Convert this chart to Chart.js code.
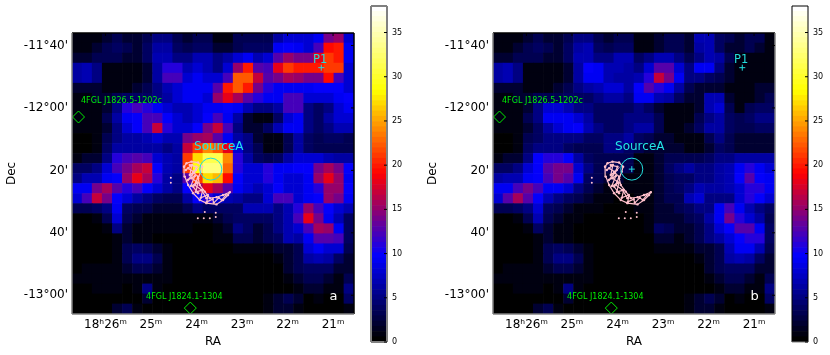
<!DOCTYPE html>
<html>
<head>
<meta charset="utf-8">
<script src="https://cdn.jsdelivr.net/npm/chart.js@4/dist/chart.umd.min.js"></script>
<style>
html, body { margin: 0; background: #fff; }
canvas { position: absolute; top: 0; }
</style>
</head>
<body>
<canvas id="panelA" width="366" height="355" style="left:0"></canvas>
<canvas id="barA" width="50" height="355" style="left:360px"></canvas>
<canvas id="panelB" width="366" height="355" style="left:421px"></canvas>
<canvas id="barB" width="49" height="355" style="left:781px"></canvas>
<script>
const raTicks = [26, 25, 24, 23, 22, 21];
const raLabels = ['18ʰ26ᵐ', '25ᵐ', '24ᵐ', '23ᵐ', '22ᵐ', '21ᵐ'];
const decTicks = [-700, -720, -740, -760, -780];
const decLabels = ["-11°40'", "-12°00'", "20'", "40'", "-13°00'"];
const barTicks = [0, 5, 10, 15, 20, 25, 30, 35];

// counts per cell, top row first, left column first
const mapA = [
    [1,1,1,2,3,2,2,3,5,5,3,2,3,3,1,1,3,3,3,3,6,8,8,8,9,14,15,8],
    [1,1,2,3,4,3,2,4,6,6,4,3,4,4,2,2,3,4,4,4,9,10,9,8,12,19,20,9],
    [2,2,3,3,3,2,2,4,7,7,5,5,7,7,5,6,8,9,7,8,13,15,14,14,18,21,20,9],
    [6,7,5,1,1,1,1,2,6,11,11,7,8,7,5,8,15,20,13,12,18,21,20,20,20,21,21,8],
    [6,7,5,1,1,1,1,2,6,12,12,8,9,8,8,12,22,22,17,13,14,16,15,14,14,19,12,8],
    [2,2,2,1,1,1,2,3,5,7,8,9,9,9,13,20,22,20,14,11,9,9,9,9,10,10,10,8],
    [1,1,2,2,3,4,4,4,5,6,8,9,9,8,15,18,16,13,11,9,9,12,12,8,8,8,9,10],
    [1,1,1,2,5,11,12,11,9,8,7,7,8,9,9,10,9,7,5,5,6,12,12,5,4,5,8,9],
    [1,1,1,3,6,9,10,12,12,10,8,7,8,10,12,9,6,2,1,1,4,8,9,5,4,6,8,8],
    [1,1,1,2,5,8,10,12,17,11,8,8,10,14,17,12,5,2,2,4,7,9,9,5,4,5,7,7],
    [0,0,1,3,5,6,6,7,8,7,7,14,15,16,13,9,6,5,2,1,1,3,6,4,3,4,4,3],
    [0,0,1,4,6,6,6,6,6,5,6,17,21,24,22,18,8,5,3,1,1,3,6,4,3,3,3,3],
    [1,2,2,5,11,12,13,12,8,7,6,21,27,31,31,24,11,6,4,3,4,6,8,8,8,7,6,6],
    [4,4,5,8,12,14,16,17,10,7,6,21,29,33,33,23,11,8,8,11,9,9,10,10,14,16,14,10],
    [5,7,7,9,10,15,18,16,11,6,5,13,21,27,26,19,10,8,8,11,9,8,8,9,15,18,15,9],
    [9,9,14,16,13,11,12,10,8,6,5,10,15,18,16,13,9,8,7,8,10,8,8,9,11,15,15,10],
    [8,12,17,14,10,8,6,5,4,3,3,6,10,11,8,7,6,5,5,8,12,12,8,9,10,15,14,9],
    [3,3,4,5,9,4,3,3,2,2,2,3,5,4,4,4,4,7,7,7,5,7,11,15,12,10,8,7],
    [0,0,1,3,8,3,2,1,1,1,1,1,1,1,2,3,4,4,4,4,5,7,12,18,14,9,7,4],
    [0,0,0,1,5,2,1,1,1,1,1,1,0,0,1,2,5,4,2,3,5,7,8,12,16,15,9,4],
    [0,0,0,0,1,2,1,1,0,0,0,0,0,0,1,1,3,3,2,3,4,7,6,9,13,13,12,4],
    [0,0,0,0,1,3,4,3,2,1,0,0,0,0,0,0,1,1,1,1,2,2,3,8,9,8,8,3],
    [0,0,0,0,1,3,5,5,3,1,0,0,0,0,0,0,0,0,0,0,1,2,3,6,7,6,4,2],
    [0,1,1,1,1,2,3,3,2,1,0,0,0,0,0,0,0,0,0,0,0,2,3,4,4,4,2,2],
    [1,1,1,1,1,1,1,1,1,1,0,0,0,0,0,0,0,0,0,0,0,1,2,3,3,2,1,3],
    [0,0,1,1,1,0,1,5,1,0,0,0,0,0,0,0,0,0,0,0,0,0,1,2,2,1,1,5],
    [0,0,0,0,0,0,0,2,0,0,0,0,0,0,0,0,0,0,0,1,2,3,2,0,1,0,0,4],
    [0,0,0,0,2,3,1,0,0,0,0,0,0,0,0,0,0,0,0,1,2,2,1,0,0,0,0,1]
];
const mapB = [
    [1,1,1,2,3,2,2,3,5,5,3,2,3,3,1,1,2,3,3,2,7,7,4,3,2,3,3,1],
    [1,1,2,3,4,3,2,4,6,7,4,3,4,4,1,1,2,3,3,2,6,7,4,2,2,3,2,1],
    [2,2,3,3,3,2,2,4,7,7,5,5,7,7,4,5,7,7,5,3,5,7,6,3,1,1,1,1],
    [6,7,5,1,1,1,1,2,6,10,9,7,7,6,5,8,13,13,8,5,9,9,5,2,1,1,1,1],
    [6,7,5,1,1,1,1,2,6,9,9,7,6,6,7,11,17,14,9,5,5,4,3,2,1,1,1,1],
    [2,2,2,1,1,1,2,3,5,6,7,8,8,6,10,13,11,9,6,3,2,2,2,1,1,1,2,2],
    [1,1,2,2,3,3,3,4,4,4,5,6,6,5,9,9,7,6,4,2,2,7,7,2,1,1,2,3],
    [1,1,1,2,5,8,8,7,5,5,4,4,4,4,5,4,2,1,1,1,2,7,8,3,1,3,4,4],
    [1,1,1,3,5,9,9,9,8,6,4,4,4,5,5,5,3,1,1,1,3,5,6,4,3,4,5,5],
    [1,1,1,2,4,6,8,9,10,7,5,4,4,5,6,6,3,1,1,2,4,6,6,4,3,3,4,4],
    [0,0,1,3,4,5,5,5,5,4,4,5,5,6,4,3,2,2,1,1,1,3,5,3,2,2,2,2],
    [0,0,1,4,5,5,5,4,3,3,3,5,5,4,3,2,2,2,2,1,1,2,4,3,2,2,2,2],
    [1,2,2,5,10,11,11,10,6,4,3,3,3,3,1,1,2,3,3,3,3,4,5,5,6,6,6,6],
    [4,4,5,8,10,13,14,14,8,5,3,3,3,3,1,1,2,4,5,6,5,5,6,7,9,11,9,8],
    [6,7,7,9,10,12,14,13,9,4,3,2,2,1,1,1,2,3,4,4,5,5,6,7,10,13,10,9],
    [9,9,12,14,12,9,9,8,5,3,2,1,1,1,1,1,2,3,4,5,7,6,6,7,8,11,11,9],
    [8,13,16,13,10,7,5,4,3,2,1,1,0,0,1,1,2,3,3,7,8,5,5,5,8,11,10,8],
    [3,3,4,5,8,4,3,2,1,1,1,0,0,0,1,1,2,2,3,4,5,5,9,12,9,7,5,4],
    [0,0,1,3,7,3,2,1,1,0,0,0,0,0,0,1,2,2,2,3,4,6,9,14,11,8,6,3],
    [0,0,0,1,4,2,1,1,0,0,0,0,0,0,0,1,4,3,2,2,3,5,8,10,13,13,9,4],
    [0,0,0,0,1,2,1,1,0,0,0,0,0,0,0,0,2,2,1,2,3,5,6,8,10,11,11,4],
    [0,0,0,0,1,3,4,3,2,1,0,0,0,0,0,0,1,1,1,1,2,2,3,7,9,9,7,3],
    [0,0,0,0,1,3,5,5,3,1,0,0,0,0,0,0,0,0,0,0,1,2,3,6,7,6,4,2],
    [0,1,1,1,1,2,3,3,2,1,0,0,0,0,0,0,0,0,0,0,0,2,3,4,4,4,2,2],
    [1,1,1,1,1,1,1,1,1,1,0,0,0,0,0,0,0,0,0,0,0,1,2,3,3,2,1,3],
    [0,0,1,1,1,0,1,5,1,0,0,0,0,0,0,0,0,0,0,0,0,0,1,2,2,1,1,5],
    [0,0,0,0,0,0,0,2,0,0,0,0,0,0,0,0,0,0,0,1,2,3,2,0,1,0,0,4],
    [0,0,0,0,2,3,1,0,0,0,0,0,0,0,0,0,0,0,0,1,2,2,1,0,0,0,0,1]
];

// radio shell contours, RA minutes and Dec arcmin
const shellRa = [24.272,24.219,24.110,23.965,23.877,23.906,23.965,23.928,23.818,23.708,23.561,23.417,23.270,23.307,23.417,23.561,23.781,23.928,24.075,24.184,24.257,24.272];
const shellDec = [-738.8,-737.7,-737.2,-737.5,-738.8,-740.4,-742.5,-744.7,-746.8,-748.9,-748.6,-747.9,-747,-747.9,-749.5,-750.9,-750.5,-749.5,-747.3,-744.7,-742,-738.8];
const innerRa = [24.184,24.075,24.110,24.0,24.075,23.965];
const innerDec = [-739.3,-740.4,-742.5,-743.6,-745.2,-747.3];
const inner2Ra = [24.147,24.0,24.053,23.965,24.037,23.89,23.781];
const inner2Dec = [-738.3,-738.8,-740.9,-742,-744.7,-746.3,-748.9];
const inner3Ra = [24.235,24.103,24.147,24.015,24.191,24.037,24.125,23.971,24.015,23.862,23.906,23.752,23.774,23.643,23.621,23.511,23.445,23.357];
const inner3Dec = [-739.9,-738.3,-741.5,-739.9,-743.1,-741.8,-745,-744,-746.9,-746.3,-748.8,-747.9,-750.1,-749.2,-750.4,-748.8,-749.5,-747.9];
const speckRa = [24.564,24.564,23.971,23.84,23.708,23.577,23.818,23.577];
const speckDec = [-742.4,-744,-755.3,-755.3,-755.3,-754.9,-753.3,-753.6];

const sourceRa = [23.686];
const sourceDec = [-739.6];
const p1Ra = [21.259];
const p1Dec = [-707.1];
const fglRa = [26.592, 24.136];
const fglDec = [-722.9, -784.1];

const raMin = 20.54, raMax = 26.735, decMin = -786, decMax = -696;
const vMax = 38, levels = 64;
const font = 'DejaVu Sans';

function toPoints(xs, ys) {
    return xs.map((x, i) => ({ x: x, y: ys[i] }));
}

// black -> blue -> red -> yellow -> white
function colorFor(v) {
    const t = Math.min(levels - 1, Math.floor(v / vMax * levels)) / (levels - 1) * 4;
    const f = t - Math.floor(t);
    const ch = n => Math.round(n * 255);
    if (t < 1) return `rgb(0,0,${ch(f)})`;
    if (t < 2) return `rgb(${ch(f)},0,${ch(1 - f)})`;
    if (t < 3) return `rgb(255,${ch(f)},0)`;
    if (t < 4) return `rgb(255,255,${ch(f)})`;
    return 'rgb(255,255,255)';
}

function cellPoints(map) {
    const pts = [];
    const rows = map.length, cols = map[0].length;
    map.forEach((row, r) => row.forEach((v, c) => {
        pts.push({
            x: raMax - (c + 0.5) * (raMax - raMin) / cols,
            y: decMax - (r + 0.5) * (decMax - decMin) / rows,
            v: v
        });
    }));
    return pts;
}

const framePlugin = {
    id: 'frame',
    afterDatasetsDraw(chart, args, o) {
        const { ctx, chartArea: a } = chart;
        const side = (c, x1, y1, x2, y2) => {
            ctx.strokeStyle = c;
            ctx.lineWidth = o.width;
            ctx.beginPath();
            ctx.moveTo(x1, y1);
            ctx.lineTo(x2, y2);
            ctx.stroke();
        };
        side(o.top, a.left, a.top, a.right, a.top);
        side(o.right, a.right, a.top, a.right, a.bottom);
        side(o.left, a.left, a.top, a.left, a.bottom);
        side(o.bottom, a.left, a.bottom, a.right, a.bottom);
        ctx.strokeStyle = '#000';
        ctx.lineWidth = 1;
        ctx.beginPath();
        if (chart.scales.x.options.display) {
            raTicks.forEach(v => {
                const x = chart.scales.x.getPixelForValue(v);
                ctx.moveTo(x, a.top);
                ctx.lineTo(x, a.top + 3);
            });
            decTicks.forEach(v => {
                const y = chart.scales.y.getPixelForValue(v);
                ctx.moveTo(a.right, y);
                ctx.lineTo(a.right - 3, y);
            });
        } else {
            barTicks.forEach(v => {
                const y = chart.scales.y.getPixelForValue(v);
                ctx.moveTo(a.right, y);
                ctx.lineTo(a.right - 3, y);
            });
        }
        ctx.stroke();
    }
};

const notesPlugin = {
    id: 'notes',
    afterDatasetsDraw(chart, args, o) {
        const { ctx, scales } = chart;
        ctx.save();
        ctx.textAlign = 'center';
        ctx.textBaseline = 'middle';
        o.items.forEach(n => {
            ctx.font = `${n.size}px "${font}"`;
            ctx.fillStyle = n.color;
            ctx.fillText(n.text, scales.x.getPixelForValue(n.ra), scales.y.getPixelForValue(n.dec));
        });
        ctx.restore();
    }
};

function panel(id, map, letter, frame, crossAtSource) {
    const pink = '#ffc0cb';
    const line = (xs, ys) => ({
        data: toPoints(xs, ys),
        showLine: true,
        borderColor: pink,
        borderWidth: 1.2,
        backgroundColor: pink,
        pointRadius: 1.2,
        pointBorderWidth: 0
    });
    const datasets = [
        {
            data: toPoints(p1Ra, p1Dec),
            pointStyle: 'cross',
            pointRadius: 3,
            borderColor: '#22dddd',
            borderWidth: 1
        },
        {
            data: toPoints(fglRa, fglDec),
            pointStyle: 'rectRot',
            pointRadius: 6,
            backgroundColor: 'rgba(0,0,0,0)',
            borderColor: '#00ee00',
            borderWidth: 1
        },
        {
            data: toPoints(sourceRa, sourceDec),
            pointStyle: 'circle',
            pointRadius: 11,
            backgroundColor: 'rgba(0,0,0,0)',
            borderColor: '#22dddd',
            borderWidth: 1
        },
        {
            data: toPoints(sourceRa, sourceDec),
            pointStyle: 'cross',
            pointRadius: crossAtSource ? 3 : 0,
            borderColor: '#22dddd',
            borderWidth: 1
        },
        line(shellRa, shellDec),
        line(innerRa, innerDec),
        line(inner2Ra, inner2Dec),
        line(inner3Ra, inner3Dec),
        {
            data: toPoints(speckRa, speckDec),
            pointRadius: 1,
            backgroundColor: pink,
            pointBorderWidth: 0
        },
        {
            data: cellPoints(map),
            pointStyle: 'rect',
            pointBorderWidth: 0,
            pointRadius: c => (c.chart.chartArea ? (c.chart.chartArea.width / map[0].length + 0.6) / Math.SQRT2 : 5),
            backgroundColor: c => (c.raw ? colorFor(c.raw.v) : '#000')
        }
    ];

    return new Chart(document.getElementById(id), {
        type: 'scatter',
        data: { datasets: datasets },
        plugins: [notesPlugin, framePlugin],
        options: {
            responsive: false,
            animation: false,
            events: [],
            layout: { padding: { top: 33, right: 12 } },
            plugins: {
                legend: { display: false },
                tooltip: { enabled: false },
                frame: Object.assign({ width: 1.5 }, frame),
                notes: {
                    items: [
                        { text: 'SourceA', ra: 23.511, dec: -732.5, size: 12, color: '#22e6e6' },
                        { text: 'P1', ra: 21.285, dec: -704.6, size: 11.5, color: '#22dddd' },
                        { text: '4FGL J1826.5-1202c', ra: 25.649, dec: -717.8, size: 8, color: '#00ee00' },
                        { text: '4FGL J1824.1-1304', ra: 24.268, dec: -780.6, size: 8, color: '#00ee00' },
                        { text: letter, ra: 20.989, dec: -780.3, size: 13, color: '#ffffff' }
                    ]
                }
            },
            scales: {
                x: {
                    type: 'linear',
                    reverse: true,
                    min: raMin,
                    max: raMax,
                    afterBuildTicks: s => { s.ticks = raTicks.map(v => ({ value: v })); },
                    afterFit: s => { s.height = 41; s.paddingLeft = 0; s.paddingRight = 0; },
                    grid: { display: false, drawTicks: false },
                    border: { display: false },
                    ticks: {
                        color: '#000',
                        font: { family: font, size: 12 },
                        padding: 4,
                        maxRotation: 0,
                        autoSkip: false,
                        callback: v => raLabels[raTicks.indexOf(v)]
                    },
                    title: { display: true, text: 'RA', color: '#000', font: { family: font, size: 12 }, padding: { top: 0, bottom: 6 } }
                },
                y: {
                    type: 'linear',
                    min: decMin,
                    max: decMax,
                    afterBuildTicks: s => { s.ticks = decTicks.map(v => ({ value: v })); },
                    afterFit: s => { s.width = 72; s.paddingTop = 0; s.paddingBottom = 0; },
                    grid: { display: false, drawTicks: false },
                    border: { display: false },
                    ticks: {
                        color: '#000',
                        font: { family: font, size: 12 },
                        padding: 4,
                        autoSkip: false,
                        callback: v => decLabels[decTicks.indexOf(v)]
                    },
                    title: { display: true, text: 'Dec', color: '#000', font: { family: font, size: 12 }, padding: { top: 5, bottom: 0 } }
                }
            }
        }
    });
}

function colorBar(id, frame) {
    const step = vMax / levels;
    const bands = Array.from({ length: levels }, (_, i) => ({
        data: [step],
        backgroundColor: colorFor((i + 0.5) * step),
        borderWidth: 0,
        barPercentage: 1,
        categoryPercentage: 1
    }));
    return new Chart(document.getElementById(id), {
        type: 'bar',
        data: { labels: [''], datasets: bands },
        plugins: [framePlugin],
        options: {
            responsive: false,
            animation: false,
            events: [],
            layout: { padding: { top: 6, bottom: 13, left: 11 } },
            plugins: {
                legend: { display: false },
                tooltip: { enabled: false },
                frame: frame
            },
            scales: {
                x: { display: false, stacked: true },
                y: {
                    position: 'right',
                    stacked: true,
                    min: 0,
                    max: vMax,
                    afterBuildTicks: s => { s.ticks = barTicks.map(v => ({ value: v })); },
                    afterFit: s => { s.width = id === 'barA' ? 23 : 22; s.paddingTop = 0; s.paddingBottom = 0; },
                    grid: { display: false, drawTicks: false },
                    border: { display: false },
                    ticks: { color: '#000', font: { family: font, size: 8 }, padding: 5 }
                }
            }
        }
    });
}

panel('panelA', mapA, 'a', { top: '#000', right: '#000', left: '#808080', bottom: '#808080' }, false);
panel('panelB', mapB, 'b', { top: '#000', right: '#808080', left: '#808080', bottom: '#808080' }, true);
colorBar('barA', { width: 2, top: '#808080', right: '#808080', left: '#808080', bottom: '#808080' });
colorBar('barB', { width: 1, top: '#000', right: '#000', left: '#000', bottom: '#808080' });
</script>
</body>
</html>
